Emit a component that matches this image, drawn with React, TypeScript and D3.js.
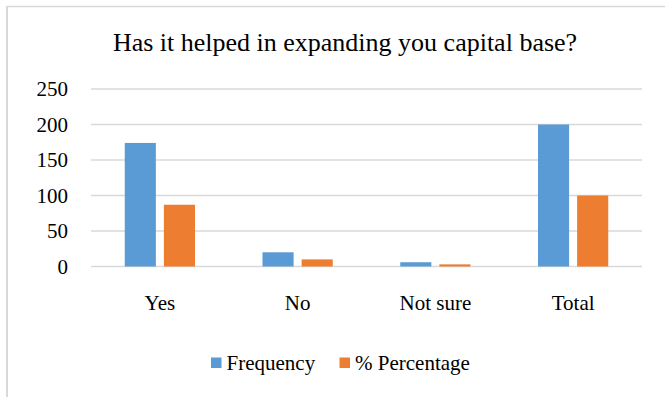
import React from "react";
import * as d3 from "d3";

const categories = ["Yes", "No", "Not sure", "Total"];
const seriesNames = ["Frequency", "% Percentage"];
const frequency = [174, 20, 6, 200];
const percentage = [87, 10, 3, 100];
const yTicks = [0, 50, 100, 150, 200, 250];
const title = "Has it helped in expanding you capital base?";

const colors = ["#5b9bd5", "#ed7d31"];
const FONT = "Liberation Serif, Times New Roman, Times, serif";

export default function App() {
  const W = 665;
  const H = 397;
  const left = 91;
  const right = 642;
  const top = 89;
  const bottom = 266.5;

  const x0 = d3
    .scaleBand<string>()
    .domain(categories)
    .range([left, right])
    .paddingInner(0.49)
    .paddingOuter(0.245);
  const x1 = d3
    .scaleBand<string>()
    .domain(seriesNames)
    .range([0, x0.bandwidth()])
    .paddingInner(0.205);
  const y = d3.scaleLinear().domain([0, 250]).range([bottom, top]);

  const values = [frequency, percentage];
  const txt = { fontFamily: FONT };

  return (
    <svg
      width={W}
      height={H}
      style={{ position: "absolute", left: 0, top: 0, background: "#fff" }}
    >
      <rect x={0} y={0} width={W} height={H} fill="#fff" />
      <line x1={7} x2={7} y1={6} y2={H} stroke="#d9d9d9" strokeWidth={2} />
      <line x1={6} x2={W} y1={6.5} y2={6.5} stroke="#d9d9d9" strokeWidth={1.5} />

      <text x={345} y={50.7} textAnchor="middle" fontSize={26} fill="#000" style={txt}>
        {title}
      </text>

      {yTicks.map((t) => (
        <g key={t}>
          <line
            x1={left}
            x2={right}
            y1={y(t)}
            y2={y(t)}
            stroke="#d9d9d9"
            strokeWidth={1.5}
          />
          <text
            x={68}
            y={y(t)}
            dy="0.34em"
            textAnchor="end"
            fontSize={21}
            fill="#000"
            style={txt}
          >
            {t}
          </text>
        </g>
      ))}

      {categories.map((c, i) => (
        <g key={c}>
          {seriesNames.map((s, j) => (
            <rect
              key={s}
              x={(x0(c) as number) + (x1(s) as number)}
              y={y(values[j][i])}
              width={x1.bandwidth()}
              height={bottom - y(values[j][i])}
              fill={colors[j]}
            />
          ))}
          <text
            x={(x0(c) as number) + x0.bandwidth() / 2}
            y={310}
            textAnchor="middle"
            fontSize={21}
            fill="#000"
            style={txt}
          >
            {c}
          </text>
        </g>
      ))}

      <g>
        <rect x={211} y={357.5} width={10.5} height={10.5} fill={colors[0]} />
        <text x={226.5} y={370} fontSize={21} fill="#000" style={txt}>
          {seriesNames[0]}
        </text>
        <rect x={339.5} y={357.5} width={10.5} height={10.5} fill={colors[1]} />
        <text x={355} y={370} fontSize={21} fill="#000" style={txt}>
          {seriesNames[1]}
        </text>
      </g>
    </svg>
  );
}
